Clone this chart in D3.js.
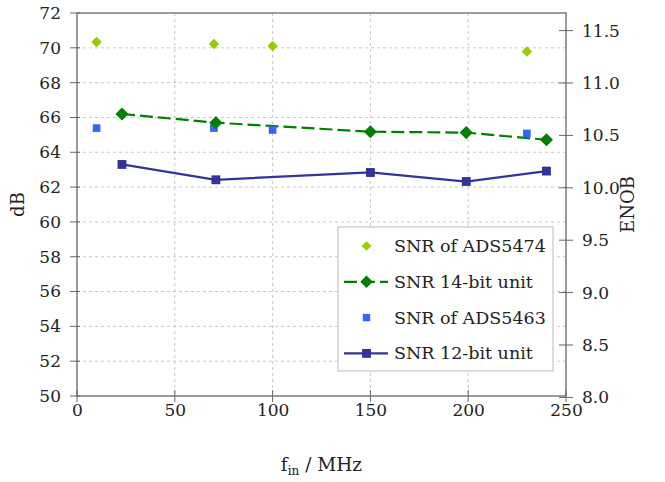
<!DOCTYPE html>
<html>
<head>
<meta charset="utf-8">
<script src="https://cdn.jsdelivr.net/npm/d3@7"></script>
<style>
body { margin: 0; background: #fff; }
</style>
</head>
<body>
<svg id="chart" width="665" height="482"></svg>
<script>
// measured data (dB vs input frequency in MHz)
var ads5474F = [10, 70, 100, 230],
	ads5474Snr = [70.33, 70.22, 70.10, 69.79];
var unit14F = [23, 71, 150, 199, 240],
	unit14Snr = [66.20, 65.70, 65.18, 65.13, 64.72];
var ads5463F = [10, 70, 100, 230],
	ads5463Snr = [65.39, 65.39, 65.28, 65.08];
var unit12F = [23, 71, 150, 199, 240],
	unit12Snr = [63.30, 62.42, 62.84, 62.32, 62.92];

var xTicks = [0, 50, 100, 150, 200, 250],
	yTicks = d3.range(50, 73, 2),
	enobTicks = [8.0, 8.5, 9.0, 9.5, 10.0, 10.5, 11.0, 11.5];

var legendNames = ["SNR of ADS5474", "SNR 14-bit unit", "SNR of ADS5463", "SNR 12-bit unit"];

var serif = "'DejaVu Serif', serif";
var svg = d3.select("#chart");
var pLeft = 77, pRight = 566, pTop = 13, pBottom = 396;

var x = d3.scaleLinear().domain([0, 250]).range([pLeft, pRight]);
var y = d3.scaleLinear().domain([50, 72]).range([pBottom, pTop]);
// ENOB = (SNR - 1.76) / 6.02
var yEnob = d3.scaleLinear().domain([(50 - 1.76) / 6.02, (72 - 1.76) / 6.02]).range([pBottom, pTop]);

// grid
var grid = svg.append("g").attr("class", "grid");
grid.selectAll(".gx").data(xTicks.slice(1, -1)).enter().append("line")
	.attr("x1", d => x(d)).attr("x2", d => x(d))
	.attr("y1", pTop).attr("y2", pBottom)
	.attr("stroke", "#c8c8c8").attr("stroke-dasharray", "3,3");
grid.selectAll(".gy").data(yTicks.slice(1, -1)).enter().append("line")
	.attr("x1", pLeft).attr("x2", pRight)
	.attr("y1", d => y(d)).attr("y2", d => y(d))
	.attr("stroke", "#c8c8c8").attr("stroke-dasharray", "3,3");

// axes
var xAxis = d3.axisBottom(x).tickValues(xTicks).tickSize(0).tickPadding(8),
	yAxis = d3.axisLeft(y).tickValues(yTicks).tickSize(0).tickPadding(16),
	rAxis = d3.axisRight(yEnob).tickValues(enobTicks).tickSize(0).tickPadding(16).tickFormat(d3.format(".1f"));

svg.append("g").attr("transform", `translate(0, ${pBottom})`).call(xAxis);
svg.append("g").attr("transform", `translate(${pLeft}, 0)`).call(yAxis);
svg.append("g").attr("transform", `translate(${pRight}, 0)`).call(rAxis);
svg.selectAll(".domain").remove();
svg.selectAll(".tick text").attr("font-size", "17px").attr("fill", "#222");

// tick marks crossing the frame
var ticks = svg.append("g").attr("stroke", "#666").attr("stroke-width", 1);
xTicks.forEach(d => {
	ticks.append("line").attr("x1", x(d)).attr("x2", x(d)).attr("y1", pBottom - 6).attr("y2", pBottom + 6);
});
yTicks.forEach(d => {
	ticks.append("line").attr("x1", pLeft - 7).attr("x2", pLeft + 3).attr("y1", y(d)).attr("y2", y(d));
});
enobTicks.forEach(d => {
	ticks.append("line").attr("x1", pRight - 7).attr("x2", pRight + 7).attr("y1", yEnob(d)).attr("y2", yEnob(d));
});

svg.append("rect")
	.attr("x", pLeft).attr("y", pTop)
	.attr("width", pRight - pLeft).attr("height", pBottom - pTop)
	.attr("fill", "none").attr("stroke", "#666").attr("stroke-width", 1.3);

// axis labels
svg.append("text")
	.attr("transform", `translate(24, ${(pTop + pBottom) / 2}) rotate(-90)`)
	.attr("text-anchor", "middle").attr("font-size", "18px")
	.text("dB");
svg.append("text")
	.attr("transform", `translate(634, ${(pTop + pBottom) / 2}) rotate(-90)`)
	.attr("text-anchor", "middle").attr("font-size", "18px")
	.text("ENOB");
var xl = svg.append("text")
	.attr("x", (pLeft + pRight) / 2).attr("y", 471)
	.attr("text-anchor", "middle").attr("font-size", "18.5px");
xl.append("tspan").text("f");
xl.append("tspan").attr("font-size", "12px").attr("dy", 4).text("in");
xl.append("tspan").attr("dy", -4).text(" / MHz");

// markers
var diamond = d3.symbol().type(d3.symbolDiamond2),
	square = d3.symbol().type(d3.symbolSquare2);

function zip(fs, vs) { return fs.map((f, i) => ({ f: f, v: vs[i] })); }

var line = d3.line().x(d => x(d.f)).y(d => y(d.v));

svg.append("path").datum(zip(unit14F, unit14Snr))
	.attr("d", line).attr("fill", "none")
	.attr("stroke", "#008000").attr("stroke-width", 2.2).attr("stroke-dasharray", "13,5");
svg.append("path").datum(zip(unit12F, unit12Snr))
	.attr("d", line).attr("fill", "none")
	.attr("stroke", "#333399").attr("stroke-width", 2.2);

function points(data, shape, size, color) {
	svg.append("g").selectAll("path").data(data).enter().append("path")
		.attr("transform", d => `translate(${x(d.f)}, ${y(d.v)})`)
		.attr("d", shape.size(size)())
		.attr("fill", color);
}
points(zip(ads5474F, ads5474Snr), diamond, 70, "#99cc00");
points(zip(ads5463F, ads5463Snr), square, 75, "#3366ff");
points(zip(unit14F, unit14Snr), diamond, 110, "#008000");
points(zip(unit12F, unit12Snr), square, 100, "#333399");

// legend
var lg = svg.append("g");
lg.append("rect")
	.attr("x", 338).attr("y", 227).attr("width", 215).attr("height", 144)
	.attr("fill", "#fff").attr("stroke", "#bbb");
var legendStyle = [
	{ shape: diamond, size: 60, color: "#99cc00", line: null },
	{ shape: diamond, size: 100, color: "#008000", line: "dash" },
	{ shape: square, size: 70, color: "#3366ff", line: null },
	{ shape: square, size: 100, color: "#333399", line: "solid" }
];
legendNames.forEach((name, i) => {
	var ly = 246 + i * 35.8, s = legendStyle[i];
	if (s.line) {
		lg.append("line").attr("x1", 344).attr("x2", 388).attr("y1", ly).attr("y2", ly)
			.attr("stroke", s.color).attr("stroke-width", 2.2)
			.attr("stroke-dasharray", s.line == "dash" ? "13,5" : null);
	}
	lg.append("path").attr("transform", `translate(366.5, ${ly})`)
		.attr("d", s.shape.size(s.size)()).attr("fill", s.color);
	lg.append("text").attr("x", 394).attr("y", ly + 6)
		.attr("font-size", "17.5px").text(name);
});

svg.selectAll("text").attr("font-family", serif).attr("fill", "#222");
</script>
</body>
</html>
